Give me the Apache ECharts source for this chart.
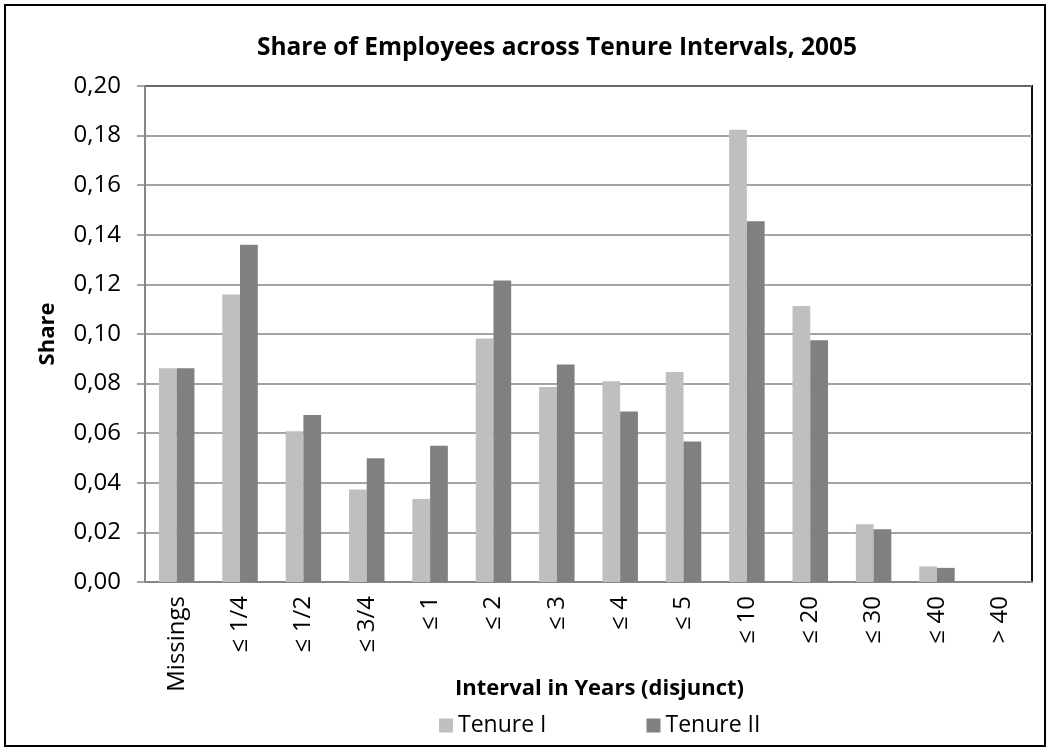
<!DOCTYPE html>
<html>
<head>
<meta charset="utf-8">
<script src="https://cdn.jsdelivr.net/npm/echarts@6/dist/echarts.min.js"></script>
<style>
  html, body { margin: 0; padding: 0; background: #fff; }
  #chart { width: 1050px; height: 751px; }
</style>
</head>
<body>
<div id="chart"></div>
<script>
// tenure intervals (x axis)
const categories = ['Missings', '≤ 1/4', '≤ 1/2', '≤ 3/4', '≤ 1', '≤ 2', '≤ 3', '≤ 4', '≤ 5', '≤ 10', '≤ 20', '≤ 30', '≤ 40', '> 40'];
// shares
const tenureI  = [0.0862, 0.1159, 0.0608, 0.0373, 0.0335, 0.0982, 0.0786, 0.0809, 0.0847, 0.1824, 0.1113, 0.0233, 0.0063, 0];
const tenureII = [0.0862, 0.1360, 0.0673, 0.0499, 0.0549, 0.1216, 0.0877, 0.0687, 0.0567, 0.1455, 0.0975, 0.0213, 0.0057, 0];

const font = '"Open Sans", sans-serif';
const chart = echarts.init(document.getElementById('chart'));

chart.setOption({
    backgroundColor: '#fff',
    animation: false,
    title: {
        text: 'Share of Employees across Tenure Intervals, 2005',
        left: 557,
        textAlign: 'center',
        top: 36,
        padding: 0,
        textStyle: {
            fontFamily: font,
            fontWeight: 'bold',
            fontSize: 24.5,
            color: '#000'
        }
    },
    legend: {
        data: ['Tenure I', 'Tenure II'],
        left: 439,
        top: 714,
        padding: 0,
        itemWidth: 14,
        itemHeight: 14,
        itemGap: 100,
        icon: 'rect',
        textStyle: {
            fontFamily: font,
            fontSize: 23,
            color: '#000'
        }
    },
    grid: {
        left: 145,
        right: 18,
        top: 86,
        bottom: 169,
        show: true,
        borderColor: '#111',
        borderWidth: 2
    },
    graphic: [{
        type: 'rect',
        shape: { x: 5, y: 5, width: 1040, height: 741 },
        style: { fill: null, stroke: '#000', lineWidth: 2 },
        z: 100
    }],
    xAxis: {
        type: 'category',
        data: categories,
        name: 'Interval in Years (disjunct)',
        nameLocation: 'middle',
        nameGap: 96,
        nameMoveOverlap: false,
        nameTextStyle: {
            fontFamily: font,
            fontWeight: 'bold',
            fontSize: 22,
            color: '#000',
            padding: [0, 0, 0, 22]
        },
        axisLine: { lineStyle: { color: '#868686', width: 2 } },
        axisTick: { length: 7, lineStyle: { color: '#868686', width: 1.5 } },
        axisLabel: {
            rotate: 90,
            margin: 14,
            fontFamily: font,
            fontSize: 24,
            color: '#000'
        }
    },
    yAxis: {
        type: 'value',
        min: 0,
        max: 0.2,
        interval: 0.02,
        name: 'Share',
        nameLocation: 'middle',
        nameGap: 86,
        nameRotate: 90,
        nameMoveOverlap: false,
        nameTextStyle: {
            fontFamily: font,
            fontWeight: 'bold',
            fontSize: 22,
            color: '#000'
        },
        axisLine: { show: true, lineStyle: { color: '#868686', width: 2 } },
        axisTick: { show: true, length: 8, lineStyle: { color: '#868686', width: 1.5 } },
        axisLabel: {
            margin: 24,
            fontFamily: font,
            fontSize: 24,
            color: '#000',
            formatter: function (v) { return v.toFixed(2).replace('.', ','); }
        },
        splitLine: { lineStyle: { color: '#868686', width: 1.5 } }
    },
    series: [{
        name: 'Tenure I',
        type: 'bar',
        data: tenureI,
        barGap: '0%',
        barCategoryGap: '44%',
        itemStyle: { color: '#bfbfbf' }
    }, {
        name: 'Tenure II',
        type: 'bar',
        data: tenureII,
        itemStyle: { color: '#808080' }
    }]
});
</script>
</body>
</html>
